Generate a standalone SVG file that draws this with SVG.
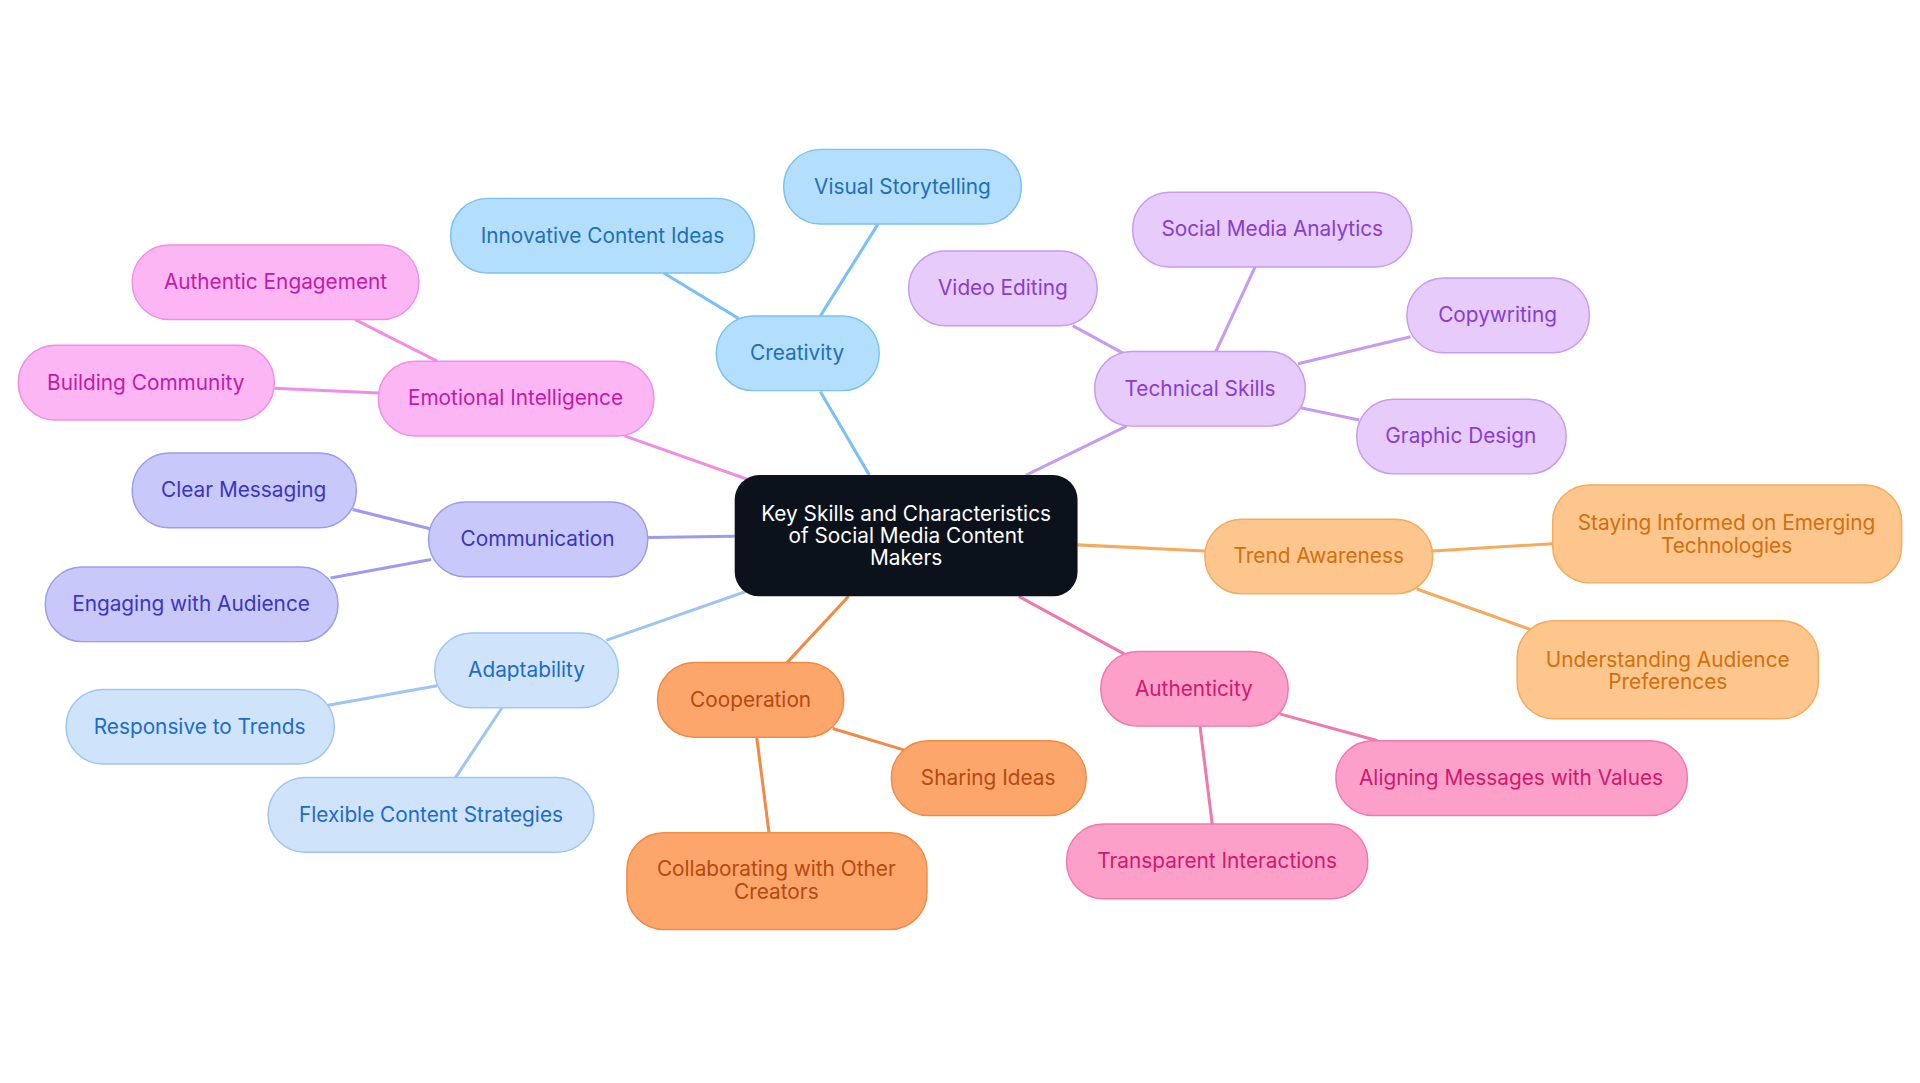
<svg xmlns="http://www.w3.org/2000/svg" width="1920" height="1083" viewBox="0 0 1920 1083">
<style>
text{font-family:Inter,"Noto Sans",sans-serif;font-size:17px;text-anchor:middle;dominant-baseline:central}
.e line{stroke-width:2.5;fill:none}
.b rect{stroke-width:1.2}
.cr rect{fill:#b3dffc;stroke:#7cc0f5}.cr text{fill:#1f6fb8}
.te rect{fill:#e6cbfb;stroke:#c79bf0}.te text{fill:#8a3ccf}
.em rect{fill:#fdb6f4;stroke:#f08ee6}.em text{fill:#c21aa8}
.co rect{fill:#c9c8fa;stroke:#9d9af0}.co text{fill:#3a36c0}
.ad rect{fill:#cfe3fb;stroke:#9fc5f0}.ad text{fill:#1d6bc9}
.cp rect{fill:#fda66b;stroke:#f08a45}.cp text{fill:#b44a10}
.au rect{fill:#fca0ca;stroke:#ef78b0}.au text{fill:#d0186f}
.tr rect{fill:#fdc68c;stroke:#f5aa5c}.tr text{fill:#d07010}
</style>
<rect width="1920" height="1083" fill="#fff"/>
<g transform="scale(1.2245)">
<g id="connectors" class="e">
<g stroke="#7cc0f5"><line x1="710" y1="388" x2="670" y2="320"/><line x1="670" y1="258" x2="717" y2="183"/><line x1="603" y1="260" x2="542" y2="223"/></g>
<g stroke="#c79bf0"><line x1="838" y1="388" x2="920" y2="348"/><line x1="993" y1="287" x2="1025" y2="218"/><line x1="920" y1="290" x2="876" y2="266"/><line x1="1060" y1="297" x2="1152" y2="275"/><line x1="1062" y1="333" x2="1110" y2="343"/></g>
<g stroke="#f08ee6"><line x1="612" y1="392" x2="510" y2="356"/><line x1="357" y1="295" x2="290" y2="261"/><line x1="309" y1="321" x2="224" y2="317"/></g>
<g stroke="#9d9af0"><line x1="600" y1="438" x2="529" y2="439"/><line x1="352" y1="432" x2="288" y2="416"/><line x1="352" y1="457" x2="270" y2="472"/></g>
<g stroke="#9fc5f0"><line x1="612" y1="482" x2="495" y2="523"/><line x1="357" y1="560" x2="268" y2="576"/><line x1="410" y1="578" x2="372" y2="635"/></g>
<g stroke="#f08a45"><line x1="693" y1="487" x2="641" y2="543"/><line x1="680" y1="595" x2="740" y2="613"/><line x1="618" y1="602" x2="628" y2="680"/></g>
<g stroke="#ef78b0"><line x1="832" y1="487" x2="918" y2="534"/><line x1="1045" y1="583" x2="1125" y2="605"/><line x1="980" y1="593" x2="990" y2="673"/></g>
<g stroke="#f5aa5c"><line x1="880" y1="445" x2="984" y2="450"/><line x1="1170" y1="450" x2="1268" y2="444"/><line x1="1157" y1="481" x2="1250" y2="514"/></g>
</g>
<g id="center"><rect x="600" y="388" width="280" height="99" rx="20" fill="#0b121c"/><text fill="#fff" font-size="16"><tspan x="740" y="419">Key Skills and Characteristics</tspan><tspan x="740" y="437">of Social Media Content</tspan><tspan x="740" y="455">Makers</tspan></text></g>
<g id="creativity" class="b cr"><rect x="585" y="258" width="133" height="61" rx="30"/><text x="651" y="288">Creativity</text></g>
<g id="visual" class="b cr"><rect x="640" y="122" width="194" height="61" rx="30"/><text x="737" y="152">Visual Storytelling</text></g>
<g id="innovative" class="b cr"><rect x="368" y="162" width="248" height="61" rx="30"/><text x="492" y="192">Innovative Content Ideas</text></g>
<g id="technical" class="b te"><rect x="894" y="287" width="172" height="61" rx="30"/><text x="980" y="317">Technical Skills</text></g>
<g id="analytics" class="b te"><rect x="925" y="157" width="228" height="61" rx="30"/><text x="1039" y="187">Social Media Analytics</text></g>
<g id="video" class="b te"><rect x="742" y="205" width="154" height="61" rx="30"/><text x="819" y="235">Video Editing</text></g>
<g id="copy" class="b te"><rect x="1149" y="227" width="149" height="61" rx="30"/><text x="1223" y="257">Copywriting</text></g>
<g id="graphic" class="b te"><rect x="1108" y="326" width="171" height="61" rx="30"/><text x="1193" y="356">Graphic Design</text></g>
<g id="emotional" class="b em"><rect x="309" y="295" width="225" height="61" rx="30"/><text x="421" y="325">Emotional Intelligence</text></g>
<g id="engagement" class="b em"><rect x="108" y="200" width="234" height="61" rx="30"/><text x="225" y="230">Authentic Engagement</text></g>
<g id="community" class="b em"><rect x="15" y="282" width="209" height="61" rx="30"/><text x="119" y="312">Building Community</text></g>
<g id="communication" class="b co"><rect x="350" y="410" width="179" height="61" rx="30"/><text x="439" y="440">Communication</text></g>
<g id="clear" class="b co"><rect x="108" y="370" width="183" height="61" rx="30"/><text x="199" y="400">Clear Messaging</text></g>
<g id="engaging" class="b co"><rect x="37" y="463" width="239" height="61" rx="30"/><text x="156" y="493">Engaging with Audience</text></g>
<g id="adaptability" class="b ad"><rect x="355" y="517" width="150" height="61" rx="30"/><text x="430" y="547">Adaptability</text></g>
<g id="responsive" class="b ad"><rect x="54" y="563" width="219" height="61" rx="30"/><text x="163" y="593">Responsive to Trends</text></g>
<g id="flexible" class="b ad"><rect x="219" y="635" width="266" height="61" rx="30"/><text x="352" y="665">Flexible Content Strategies</text></g>
<g id="cooperation" class="b cp"><rect x="537" y="541" width="152" height="61" rx="30"/><text x="613" y="571">Cooperation</text></g>
<g id="sharing" class="b cp"><rect x="728" y="605" width="159" height="61" rx="30"/><text x="807" y="635">Sharing Ideas</text></g>
<g id="collab" class="b cp"><rect x="512" y="680" width="245" height="79" rx="30"/><text><tspan x="634" y="709">Collaborating with Other</tspan><tspan x="634" y="728">Creators</tspan></text></g>
<g id="authenticity" class="b au"><rect x="899" y="532" width="153" height="61" rx="30"/><text x="975" y="562">Authenticity</text></g>
<g id="aligning" class="b au"><rect x="1091" y="605" width="287" height="61" rx="30"/><text x="1234" y="635">Aligning Messages with Values</text></g>
<g id="transparent" class="b au"><rect x="871" y="673" width="246" height="61" rx="30"/><text x="994" y="703">Transparent Interactions</text></g>
<g id="trend" class="b tr"><rect x="984" y="424" width="186" height="61" rx="30"/><text x="1077" y="454">Trend Awareness</text></g>
<g id="staying" class="b tr"><rect x="1268" y="396" width="285" height="80" rx="30"/><text><tspan x="1410" y="426">Staying Informed on Emerging</tspan><tspan x="1410" y="445">Technologies</tspan></text></g>
<g id="understanding" class="b tr"><rect x="1239" y="507" width="246" height="80" rx="30"/><text><tspan x="1362" y="538">Understanding Audience</tspan><tspan x="1362" y="556">Preferences</tspan></text></g>
</g>
</svg>
